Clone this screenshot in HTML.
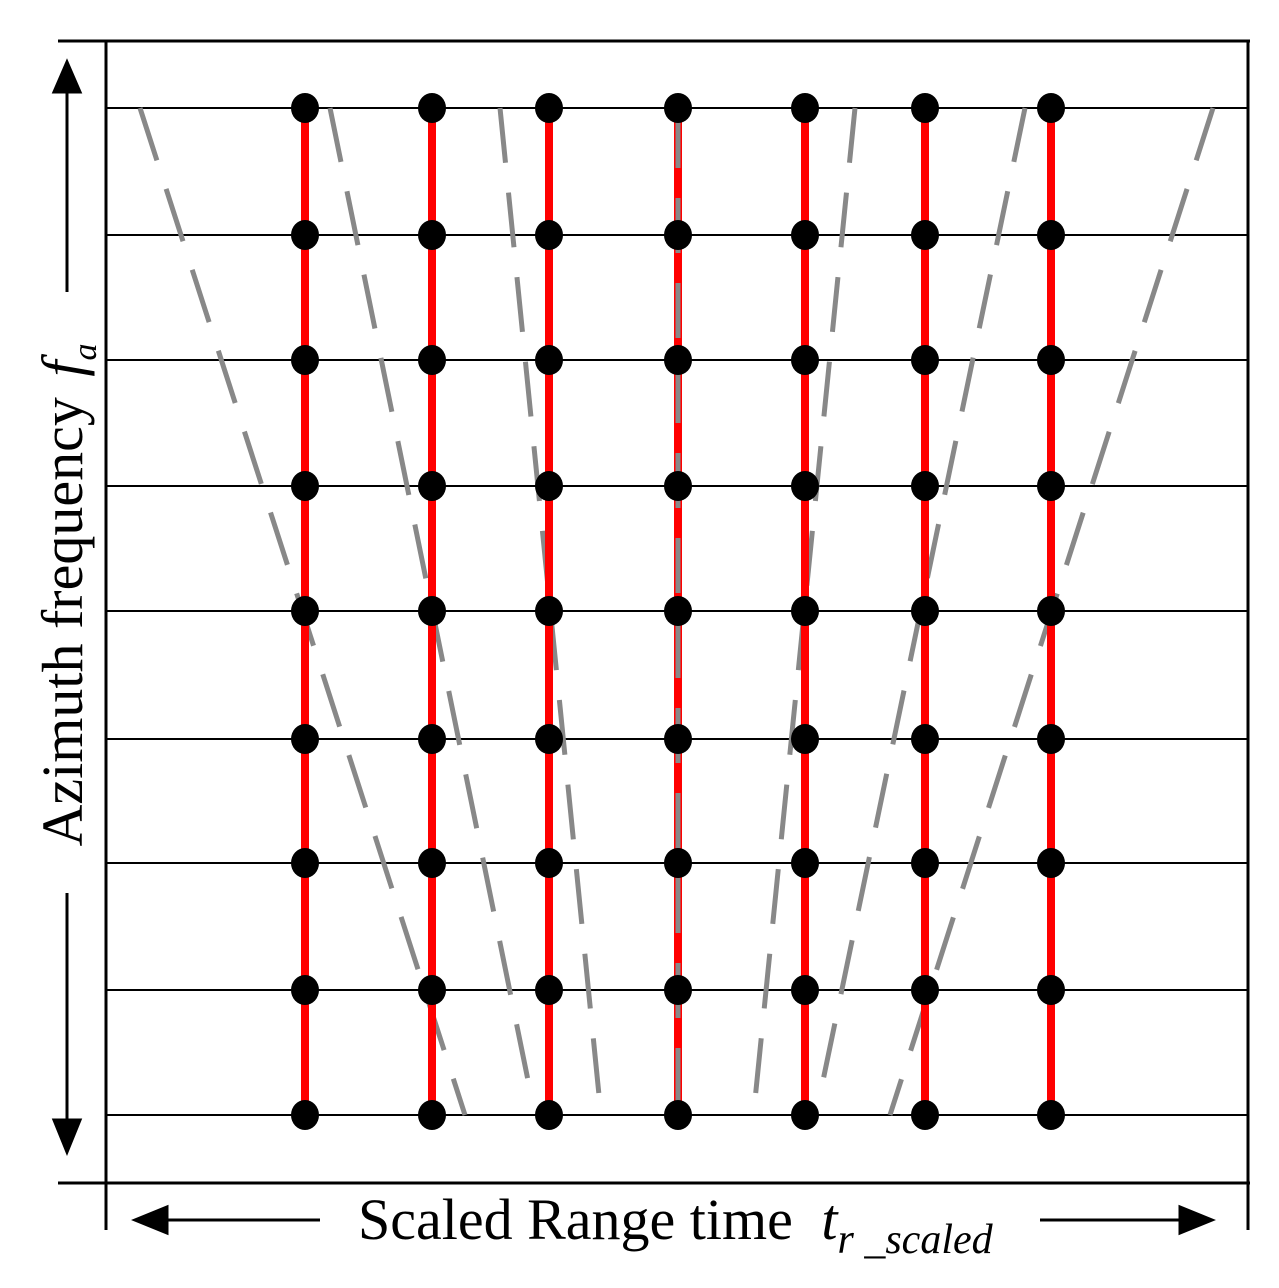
<!DOCTYPE html>
<html><head><meta charset="utf-8"><style>body{margin:0;background:#fff}svg{display:block}</style></head>
<body>
<svg width="1279" height="1288" viewBox="0 0 1279 1288" font-family="'Liberation Serif', serif">
<g id="frame" stroke="#000" stroke-width="3">
<line x1="58" y1="41" x2="1250" y2="41"/>
<line x1="58" y1="1183" x2="1250" y2="1183"/>
<line x1="106" y1="41" x2="106" y2="1230"/>
<line x1="1248" y1="41" x2="1248" y2="1230"/>
</g>
<g id="grid"></g>
<g id="dashed"></g>
<g id="cols"></g>
<g id="center"></g>
<g id="dots"></g>
<g stroke="#000" stroke-width="3">
<line x1="67" y1="90" x2="67" y2="292"/><polygon points="67,62 54,92 80,92" fill="#000"/>
<line x1="67" y1="893" x2="67" y2="1122"/><polygon points="67,1152 54,1120 80,1120" fill="#000"/>
</g>
<text transform="translate(82,595) rotate(-90)" text-anchor="middle" font-size="58">Azimuth frequency <tspan font-style="italic" dx="6">f</tspan><tspan font-style="italic" font-size="34" dy="14">a</tspan></text>
<g stroke="#000" stroke-width="3">
<line x1="165" y1="1220" x2="320" y2="1220"/><polygon points="135,1220 167,1207 167,1233" fill="#000"/>
<line x1="1040" y1="1220" x2="1182" y2="1220"/><polygon points="1212,1220 1180,1207 1180,1233" fill="#000"/>
</g>
<text x="358" y="1239" font-size="58">Scaled Range time <tspan font-style="italic" dx="14">t</tspan><tspan font-style="italic" font-size="42" dy="14">r _scaled</tspan></text>
</svg>
<script>
const rowsY=[108,235,360,486,611,739,863,990,1115];
const colsX=[305,432,549,678,805,925,1051];
const dashTop=[140,330,500,855,1025,1213];
const dashBottom=[465,530,600,755,820,890];
const dashBottomY=[1115,1090,1105,1100,1095,1115];
const NS='http://www.w3.org/2000/svg';
function mk(t,a,p){const e=document.createElementNS(NS,t);for(const k in a)e.setAttribute(k,a[k]);p.appendChild(e);return e;}
const g=document.getElementById('grid');
rowsY.forEach(y=>{const l=mk('line',{x1:106,x2:1248,y1:y,y2:y,stroke:'#000','stroke-width':2},g);

});
const d=document.getElementById('dashed');
dashTop.forEach((x,i)=>{const l=mk('line',{x1:x,y1:rowsY[0],x2:dashBottom[i],y2:dashBottomY[i],stroke:'#888','stroke-width':5,'stroke-dasharray':'55 30'},d);

});
const c=document.getElementById('cols');
colsX.forEach(x=>{const l=mk('line',{x1:x,x2:x,y1:rowsY[0],y2:rowsY[rowsY.length-1],stroke:'#f00','stroke-width':8},c);

});
const ce=document.getElementById('center');
const cl=mk('line',{x1:678,x2:678,y1:rowsY[0]+5,y2:rowsY[rowsY.length-1],stroke:'#888','stroke-width':5,'stroke-dasharray':'55 30'},ce);


const dt=document.getElementById('dots');
colsX.forEach(x=>rowsY.forEach(y=>{const e=mk('ellipse',{cx:x,cy:y,rx:14,ry:15,fill:'#000'},dt);

}));
</script>
</body></html>
